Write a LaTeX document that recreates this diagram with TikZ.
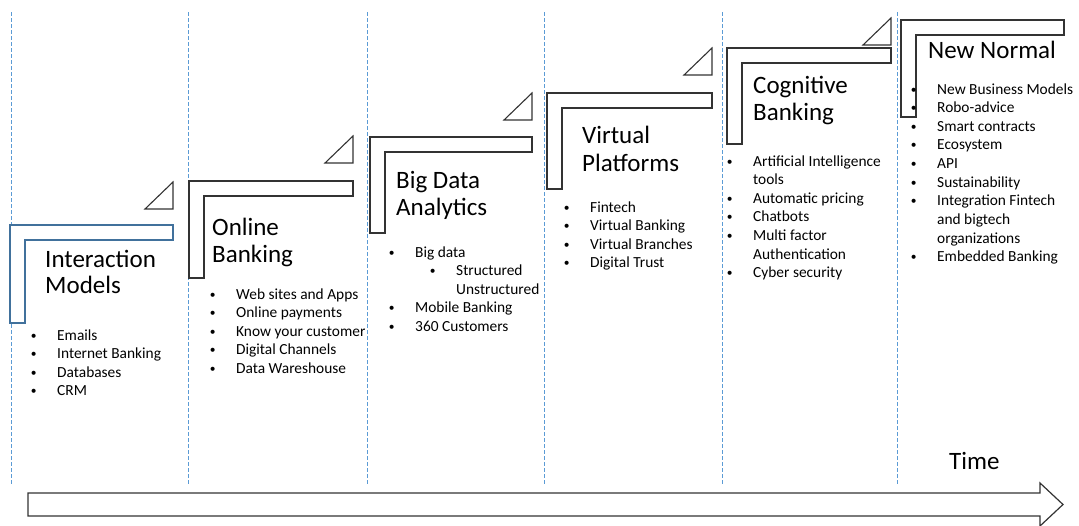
\documentclass[tikz,border=0pt]{standalone}
\usepackage{fontspec}
\setmainfont{Carlito}
\definecolor{guide}{HTML}{5B9BD5}
\definecolor{firstedge}{HTML}{41719C}
\definecolor{edge}{HTML}{333333}
\newcommand\itemfont{\fontsize{15.4}{18.6}\selectfont}
\newcommand\headfont{\fontsize{25}{27}\selectfont}
\newcommand\smalldot{{\fontsize{11.5}{11.5}\selectfont\raisebox{1pt}{\textbullet}}}
\tikzset{
  guideline/.style={draw=guide, line width=0.9pt, dash pattern=on 4pt off 2pt},
  stair/.style={draw=edge, line width=1.2pt, fill=white},
  corner/.style={draw=edge, line width=1.1pt, fill=white},
  itm/.style={anchor=base west, inner sep=0pt, font=\itemfont,
    execute at begin node={\llap{\smalldot\hspace{20.6pt}}}},
  cont/.style={anchor=base west, inner sep=0pt, font=\itemfont},
  subitm/.style={itm, xshift=41pt},
  subcont/.style={cont, xshift=41pt},
  ttl/.style={anchor=base west, inner sep=0pt, font=\headfont},
}
\begin{document}
\begin{tikzpicture}[x=1pt, y=-1pt]
\useasboundingbox (0,0) rectangle (1079,525);

% era separators
\foreach \gx in {11,188,367,544,722,897}
  \draw[guideline] (\gx,12) -- (\gx,484);

% staircase steps: (left, top, right, bottom)
\draw[stair, draw=firstedge] (10,225) -- (173,225) -- (173,240) -- (25,240) -- (25,323) -- (10,323) -- cycle;
\draw[stair] (189,181) -- (353,181) -- (353,196) -- (204,196) -- (204,278) -- (189,278) -- cycle;
\draw[stair] (370,137) -- (532,137) -- (532,152) -- (385,152) -- (385,233) -- (370,233) -- cycle;
\draw[stair] (547,93) -- (712,93) -- (712,108) -- (562,108) -- (562,189) -- (547,189) -- cycle;
\draw[stair] (727,48) -- (891,48) -- (891,63) -- (742,63) -- (742,144) -- (727,144) -- cycle;
\draw[stair] (901,20) -- (1064,20) -- (1064,35) -- (916,35) -- (916,117) -- (901,117) -- cycle;

% small corner triangles above each step end
\foreach \rx/\by in {173/209, 353/163, 532/120, 712/75, 891/45}
  \draw[corner] (\rx-28,\by) -- (\rx,\by-27) -- (\rx,\by) -- cycle;

% time arrow
\draw[draw=edge, line width=1.2pt, fill=white]
  (28,493) -- (1040,493) -- (1040,483) -- (1063,504.5) -- (1040,526) -- (1040,516) -- (28,516) -- cycle;
\node[ttl] (time) at (949,469) {Time};

% step headings
\node[ttl] (h1a) at (45,267) {Interaction};
\node[ttl] (h1b) at (45,293) {Models};
\node[ttl] (h2a) at (212,235) {Online};
\node[ttl] (h2b) at (212,262) {Banking};
\node[ttl] (h3a) at (396,188) {Big Data};
\node[ttl] (h3b) at (396,215) {Analytics};
\node[ttl] (h4a) at (582,143) {Virtual};
\node[ttl] (h4b) at (582,171) {Platforms};
\node[ttl] (h5a) at (753,93) {Cognitive};
\node[ttl] (h5b) at (753,120) {Banking};
\node[ttl] (h6a) at (928,58) {New Normal};

% bullet lists
\foreach \s/\t [count=\i from 0] in {itm/Emails, itm/Internet Banking, itm/Databases, itm/CRM}
  \node[\s] (a\i) at (57,340+18.65*\i) {\t};
\foreach \s/\t [count=\i from 0] in {itm/Web sites and Apps, itm/Online payments,
    itm/Know your customer, itm/Digital Channels, itm/Data Wareshouse}
  \node[\s] (b\i) at (236,299+18.65*\i) {\t};
\foreach \s/\t [count=\i from 0] in {itm/Big data, subitm/Structured, subcont/Unstructured,
    itm/Mobile Banking, itm/360 Customers}
  \node[\s] (c\i) at (415,257+18.65*\i) {\t};
\foreach \s/\t [count=\i from 0] in {itm/Fintech, itm/Virtual Banking, itm/Virtual Branches,
    itm/Digital Trust}
  \node[\s] (d\i) at (590,212+18.65*\i) {\t};
\foreach \s/\t [count=\i from 0] in {itm/Artificial Intelligence, cont/tools, itm/Automatic pricing,
    itm/Chatbots, itm/Multi factor, cont/Authentication, itm/Cyber security}
  \node[\s] (e\i) at (753,166+18.65*\i) {\t};
\foreach \s/\t [count=\i from 0] in {itm/New Business Models, itm/Robo-advice, itm/Smart contracts,
    itm/Ecosystem, itm/API, itm/Sustainability, itm/Integration Fintech, cont/and bigtech,
    cont/organizations, itm/Embedded Banking}
  \node[\s] (f\i) at (937,94+18.65*\i) {\t};
\end{tikzpicture}
\end{document}
